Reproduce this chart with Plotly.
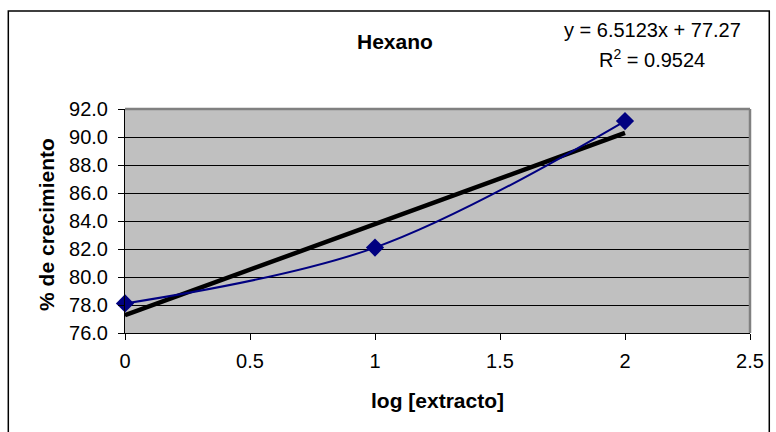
import plotly.graph_objects as go

x_vals = [0, 1, 2]
y_vals = [78.11, 82.10, 91.14]
slope = 6.5123
intercept = 77.27
trend_x = [0, 2]
trend_y = [intercept + slope * v for v in trend_x]
y_ticks = [76.0, 78.0, 80.0, 82.0, 84.0, 86.0, 88.0, 90.0, 92.0]
x_ticks = [0, 0.5, 1, 1.5, 2, 2.5]
x_tick_labels = ["0", "0.5", "1", "1.5", "2", "2.5"]

FONT = "Liberation Sans, Arial, sans-serif"

fig = go.Figure()
fig.add_trace(go.Scatter(
    x=trend_x, y=trend_y, mode="lines",
    line=dict(color="black", width=4.5),
    showlegend=False))
fig.add_trace(go.Scatter(
    x=x_vals, y=y_vals, mode="lines+markers",
    line=dict(color="#000080", width=2, shape="spline", smoothing=1.0),
    marker=dict(symbol="diamond", size=14, color="#000080"),
    showlegend=False, cliponaxis=False))

L, R, T, B = 125, 757, 109, 333
W, H = 776, 432
pw, ph = R - L, B - T

def px(xp):
    return (xp - L) / pw

def py(yp):
    return (B - yp) / ph

def ann(text, x, y, size, angle=0):
    return dict(text=text, xref="paper", yref="paper", x=px(x), y=py(y),
                xanchor="center", yanchor="middle", showarrow=False,
                textangle=angle, font=dict(size=size, family=FONT))

fig.update_layout(
    width=W, height=H,
    margin=dict(l=L, r=W - R, t=T, b=H - B),
    paper_bgcolor="white", plot_bgcolor="#C0C0C0",
    font=dict(family=FONT, size=20, color="black"),
    xaxis=dict(range=[0, 2.5], tickvals=x_ticks, ticktext=x_tick_labels,
               showgrid=False, zeroline=False, showline=True, linecolor="black",
               linewidth=1, ticks="outside", ticklen=6, tickcolor="black",
               ticklabelstandoff=4, tickfont=dict(size=20)),
    yaxis=dict(range=[76, 92], tickvals=y_ticks,
               ticktext=[f"{v:.1f}" for v in y_ticks],
               showgrid=True, gridcolor="black", gridwidth=1, zeroline=False,
               showline=True, linecolor="black", linewidth=1,
               ticks="outside", ticklen=6, tickcolor="black",
               ticklabelstandoff=6, tickfont=dict(size=20)),
    shapes=[
        dict(type="rect", xref="paper", yref="paper",
             x0=px(7), x1=px(776.5), y0=py(11), y1=py(460),
             line=dict(color="black", width=1.5), fillcolor="rgba(0,0,0,0)",
             layer="below"),
        dict(type="line", xref="paper", yref="paper",
             x0=0, x1=1, y0=1, y1=1, line=dict(color="#808080", width=2.5)),
        dict(type="line", xref="paper", yref="paper",
             x0=1, x1=1, y0=0, y1=1, line=dict(color="#808080", width=2.5)),
    ],
    annotations=[
        ann("<b>Hexano</b>", 398, 41, 21),
        ann("y = 6.5123x + 77.27", 658, 30, 20),
        ann("R<sup>2</sup> = 0.9524", 658, 59, 20),
        ann("<b>log [extracto]</b>", 441, 400, 21),
        ann("<b>% de crecimiento</b>", 45, 224, 21, -90),
    ],
)

fig.write_html("out.html")
